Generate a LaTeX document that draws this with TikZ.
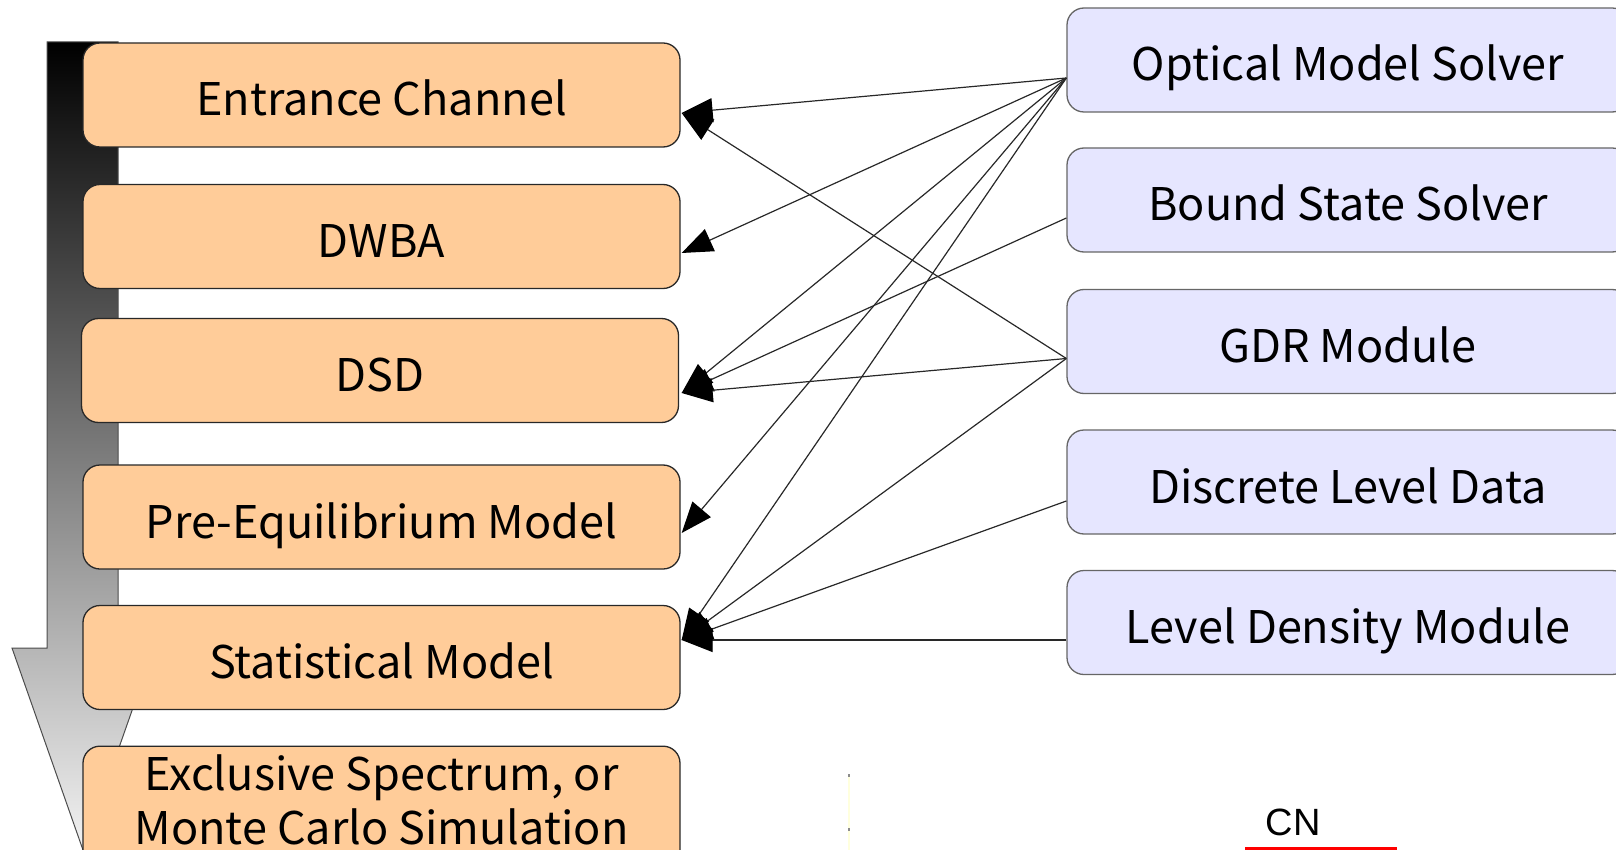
\documentclass[tikz,border=0pt]{standalone}
\usepackage{fontspec}
\setmainfont{Noto Sans CJK JP}
\newfontfamily\cnfamily{Liberation Sans}
\usetikzlibrary{arrows.meta,calc}

\definecolor{stagefill}{RGB}{255,204,153}
\definecolor{modfill}{RGB}{230,230,255}
\definecolor{edgegray}{RGB}{40,40,40}
\definecolor{flowline}{RGB}{40,40,40}
\definecolor{faintmark}{RGB}{255,255,222}

\tikzset{
  boxtext/.style={font=\fontsize{45}{54}\selectfont, text height=42pt, text depth=0pt},
  stage/.style={draw=edgegray, line width=1.3pt, fill=stagefill, rounded corners=17pt,
    minimum width=597pt, minimum height=104pt, inner sep=0pt, boxtext},
  module/.style={draw=black!60, line width=1.3pt, fill=modfill, rounded corners=17pt,
    minimum width=562pt, minimum height=104pt, inner sep=0pt, boxtext},
  feed/.style={draw=flowline, line width=1.2pt,
    -{Triangle[length=31pt,width=24pt,color=black,fill=black]}},
}

\begin{document}
\begin{tikzpicture}[x=1pt,y=-1pt]
  \useasboundingbox (0,0) rectangle (1616,850);
  \clip (0,0) rectangle (1616,850);

  % processing order: shaded downward arrow behind the stages
  \shade[top color=black, bottom color=black!5, draw=black!70, line width=1pt]
    (47,42) -- (118,42) -- (118,648) -- (154,648) -- (83,850) -- (12,648) -- (47,648) -- cycle;

  % calculation stages
  \node[stage] (ec) at (381.5,95)    {Entrance Channel};
  \node[stage] (dw) at (381.5,236.5) {DWBA};
  \node[stage] (ds) at (380,370.5)   {DSD};
  \node[stage] (pe) at (381.5,517)   {Pre-Equilibrium Model};
  \node[stage] (st) at (381.5,657.5) {Statistical Model};
  \node[stage, minimum height=130pt, anchor=north] (ex) at (381.5,745.5) {};
  \node[boxtext, anchor=base] (ex1) at (381.5,790) {Exclusive Spectrum, or};
  \node[boxtext, anchor=base] (ex2) at (381.5,844) {Monte Carlo Simulation};

  % physics modules
  \node[module] (om) at (1348,60)    {Optical Model Solver};
  \node[module] (bs) at (1348,200)   {Bound State Solver};
  \node[module] (gd) at (1348,341.5) {GDR Module};
  \node[module] (dl) at (1348,482)   {Discrete Level Data};
  \node[module] (ld) at (1348,622.5) {Level Density Module};

  % module outputs
  \coordinate (omo) at ($(om.west)+(0,18)$);
  \coordinate (bso) at ($(bs.west)+(0,18)$);
  \coordinate (gdo) at ($(gd.west)+(0,17)$);
  \coordinate (dlo) at ($(dl.west)+(0,19)$);
  \coordinate (ldo) at ($(ld.west)+(0,17.5)$);

  % stage inputs
  \coordinate (eci) at ($(ec.east)+(1,18)$);
  \coordinate (dwi) at ($(dw.east)+(1,16.5)$);
  \coordinate (dsi) at ($(ds.east)+(2.5,22.5)$);
  \coordinate (pei) at ($(pe.east)+(1,16)$);
  \coordinate (sti) at ($(st.east)+(1,-17.5)$);

  \draw[feed] (omo) -- (eci);
  \draw[feed] (omo) -- (dwi);
  \draw[feed] (omo) -- (dsi);
  \draw[feed] (omo) -- (pei);
  \draw[feed] (omo) -- (sti);
  \draw[feed] (bso) -- (dsi);
  \draw[feed] (gdo) -- (eci);
  \draw[feed] (gdo) -- (dsi);
  \draw[feed] (gdo) -- (sti);
  \draw[feed] (dlo) -- (sti);
  \draw[feed] (ldo) -- (sti);

  % compound nucleus label
  \node[font=\cnfamily\fontsize{38}{44}\selectfont, text height=27pt, text depth=0pt, inner sep=0pt]
    (cn) at (1293,821.5) {CN};
  \draw[red, line width=3pt] ($(cn.south)+(-48,13)$) -- ($(cn.south)+(104,13)$);

  % faint guide mark
  \draw[faintmark, line width=2pt] (849,775) -- (849,850);
  \fill[black!45] (848,774) rectangle (850,777);
  \fill[black!45] (848,828) rectangle (850,831);
\end{tikzpicture}
\end{document}
